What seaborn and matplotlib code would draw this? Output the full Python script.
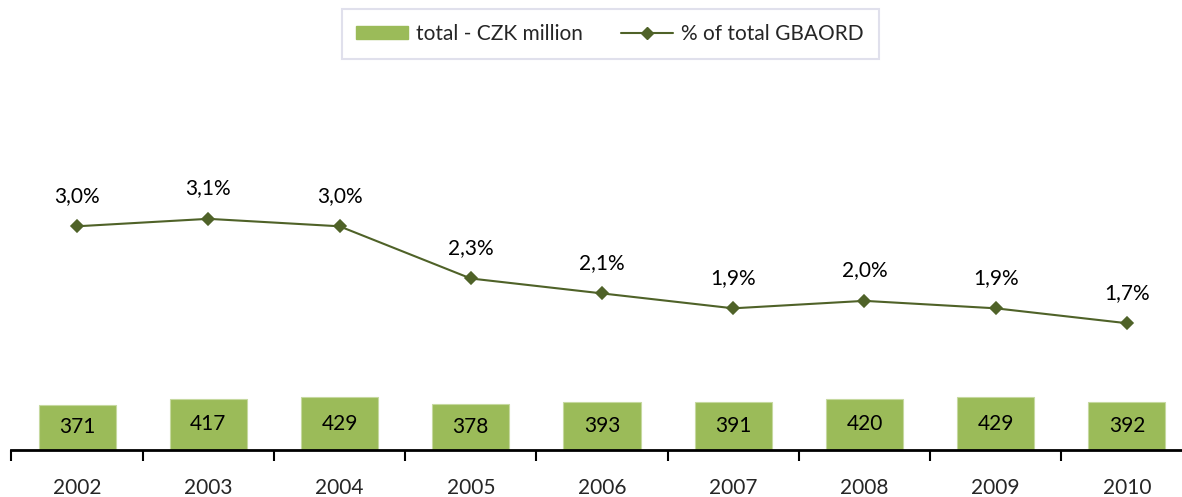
import numpy as np
import pandas as pd
import matplotlib
matplotlib.use("Agg")
import matplotlib.pyplot as plt
import seaborn as sns
from matplotlib.patches import Patch
from matplotlib.lines import Line2D

# datos
years = ["2002", "2003", "2004", "2005", "2006", "2007", "2008", "2009", "2010"]
total_czk = [371, 417, 429, 378, 393, 391, 420, 429, 392]
pct_gbaord = [3.0, 3.1, 3.0, 2.3, 2.1, 1.9, 2.0, 1.9, 1.7]

bar_color = "#9BBB59"
line_color = "#4F6228"

sns.set_style("white")
plt.rcParams["font.family"] = ["Lato", "DejaVu Sans"]

df = pd.DataFrame({"year": years, "total": total_czk, "pct": pct_gbaord})

fig = plt.figure(figsize=(11.82, 4.97), dpi=100)
ax = fig.add_axes([11.4 / 1182, 47 / 497, 1181.2 / 1182, 390 / 497])

sns.barplot(data=df, x="year", y="total", color=bar_color, width=0.587,
            saturation=1, ax=ax, edgecolor="#C6D9A0", linewidth=0.8)
ax.bar_label(ax.containers[0], labels=[str(v) for v in total_czk],
             label_type="center", fontsize=15, color="black")
ax.set_ylim(0, 3184)

ax2 = ax.twinx()
sns.pointplot(data=df, x="year", y="pct", color=line_color, markers="D",
              markersize=6, linewidth=1.5, ax=ax2)
for i, v in enumerate(pct_gbaord):
    ax2.annotate(f"{v:.1f}%".replace(".", ","), (i, v), xytext=(0, 22),
                 textcoords="offset points", ha="center", va="center",
                 fontsize=15, color="black")
ax2.set_ylim(0, 5.23)

for a in (ax, ax2):
    a.set_xlim(-0.5, len(years) - 0.5)
    a.set_ylabel("")
    a.set_xlabel("")
    a.set_yticks([])
    for s in ("top", "right", "left"):
        a.spines[s].set_visible(False)
ax2.spines["bottom"].set_visible(False)
ax.spines["bottom"].set_linewidth(2)
ax.spines["bottom"].set_color("black")

ax.set_xticks(range(len(years)))
ax.set_xticklabels(years, fontsize=15)
ax.set_xticks(np.arange(-0.5, len(years), 1), minor=True)
ax.tick_params(axis="x", which="major", length=0, pad=20)
ax.tick_params(axis="x", which="minor", length=8, width=1.5, color="black",
               direction="out", bottom=True)

handles = [Patch(facecolor=bar_color, edgecolor=bar_color, label="total - CZK million"),
           Line2D([0], [0], color=line_color, marker="D", markersize=6, lw=1.5,
                  label="% of total GBAORD")]
leg = fig.legend(handles=handles, loc="center", bbox_to_anchor=(610 / 1182, 1 - 34 / 497),
                 ncol=2, fontsize=15, frameon=True, fancybox=False,
                 edgecolor="#D9D9E8", handlelength=2.5, handleheight=0.6,
                 handletextpad=0.4, columnspacing=1.8, borderpad=0.7,
                 borderaxespad=0)
leg.get_frame().set_linewidth(1.5)

fig.savefig("out.png", dpi=100)
